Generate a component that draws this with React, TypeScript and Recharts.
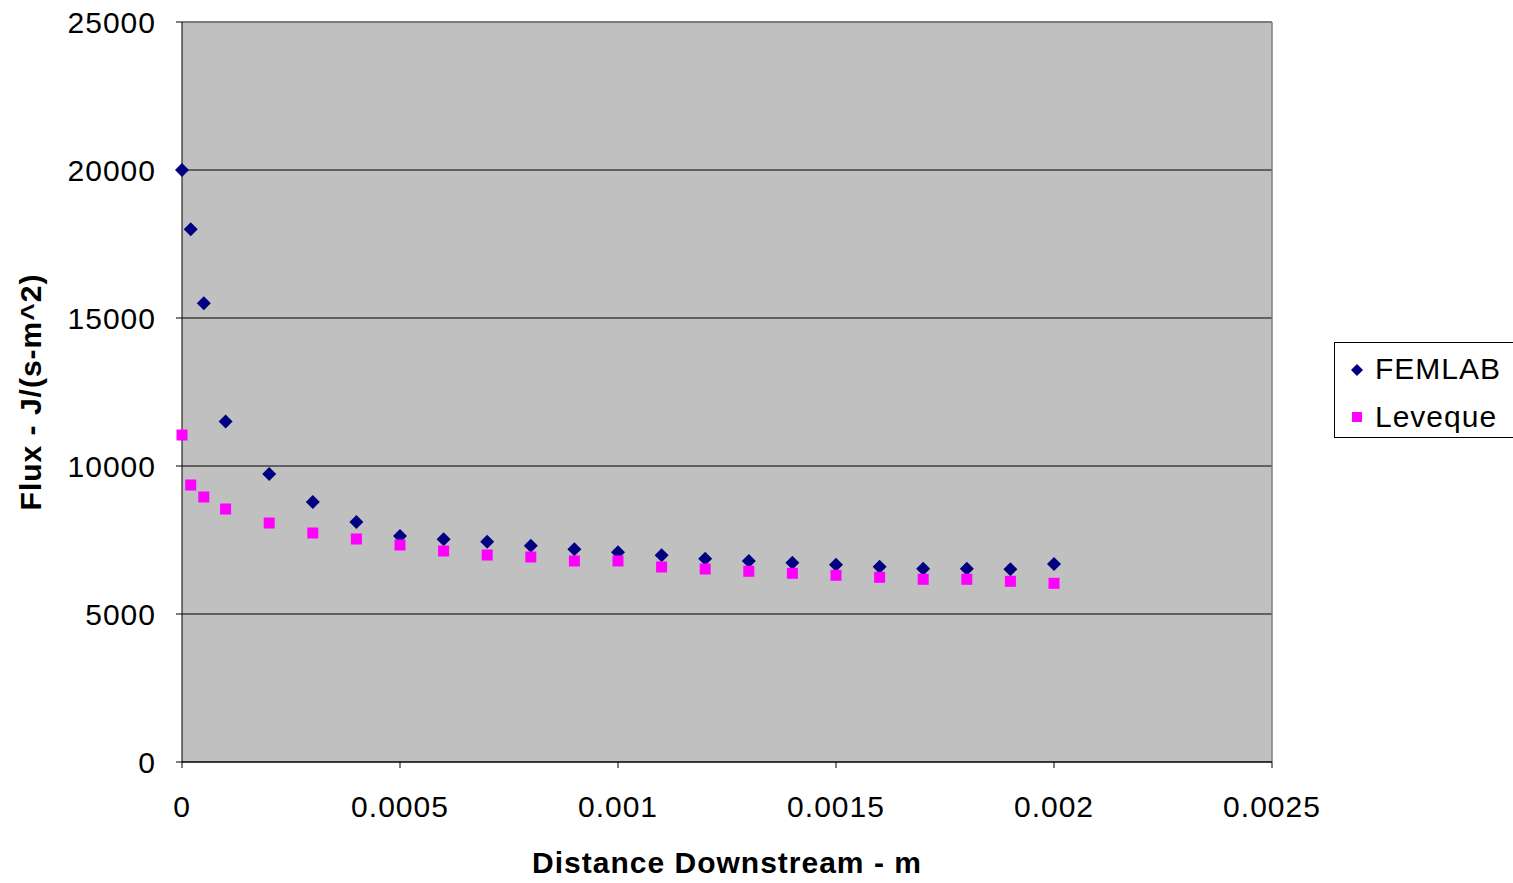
import { ScatterChart, Scatter, XAxis, YAxis, CartesianGrid, ReferenceLine } from "recharts";

// distance downstream (m)
const distance = [
  0, 0.00002, 0.00005, 0.0001, 0.0002, 0.0003, 0.0004, 0.0005, 0.0006, 0.0007, 0.0008,
  0.0009, 0.001, 0.0011, 0.0012, 0.0013, 0.0014, 0.0015, 0.0016, 0.0017, 0.0018, 0.0019, 0.002,
];
// flux J/(s-m^2)
const femlab = [
  20000, 18000, 15500, 11500, 9730, 8780, 8110, 7635, 7524, 7443, 7307,
  7186, 7084, 6983, 6869, 6791, 6733, 6666, 6598, 6530, 6530, 6510, 6689,
];
const leveque = [
  11047, 9358, 8953, 8547, 8074, 7736, 7534, 7331, 7128, 6993, 6926,
  6791, 6791, 6588, 6520, 6443, 6375, 6307, 6240, 6172, 6172, 6105, 6037,
];
const xTicks = [0, 0.0005, 0.001, 0.0015, 0.002, 0.0025];
const yTicks = [0, 5000, 10000, 15000, 20000, 25000];

const FONT = "'Liberation Sans', Arial, sans-serif";
const NAVY = "#000080";
const MAGENTA = "#FF00FF";

const femlabData = distance.map((x, i) => ({ x, y: femlab[i] }));
const levequeData = distance.map((x, i) => ({ x, y: leveque[i] }));

function Diamond(props: any) {
  const { cx, cy } = props;
  const r = 7;
  return <polygon points={`${cx},${cy - r} ${cx + r},${cy} ${cx},${cy + r} ${cx - r},${cy}`} fill={NAVY} />;
}

function Square(props: any) {
  const { cx, cy } = props;
  const s = 11;
  return <rect x={cx - s / 2} y={cy - s / 2} width={s} height={s} fill={MAGENTA} />;
}

function YTitle(props: any) {
  const vb = props.viewBox;
  const cx = 30;
  const cy = vb.y + vb.height / 2;
  return (
    <text x={cx} y={cy} transform={`rotate(-90 ${cx} ${cy})`} textAnchor="middle" dominantBaseline="central"
      fontFamily={FONT} fontSize={30} letterSpacing={1} fontWeight="bold" fill="#000">
      Flux - J/(s-m^2)
    </text>
  );
}

function XTitle(props: any) {
  const vb = props.viewBox;
  return (
    <text x={vb.x + vb.width / 2} y={873} textAnchor="middle" fontFamily={FONT} fontSize={30} letterSpacing={1}
      fontWeight="bold" fill="#000">
      Distance Downstream - m
    </text>
  );
}

export default function App() {
  const tickStyle = { fill: "#000", fontSize: 30, fontFamily: FONT, letterSpacing: 1 };
  return (
    <div style={{ position: "absolute", left: 0, top: 0, width: 1513, height: 883, overflow: "hidden", background: "#fff" }}>
      <ScatterChart width={1513} height={883} margin={{ top: 22, right: 241, bottom: 0, left: 0 }}>
        <CartesianGrid vertical={false} stroke="#000" fill="#C0C0C0" fillOpacity={1} />
        <XAxis
          type="number"
          dataKey="x"
          domain={[0, 0.0025]}
          ticks={xTicks}
          tickFormatter={(v) => String(v)}
          height={121}
          tickSize={6}
          tickMargin={28}
          stroke="#000"
          tick={tickStyle}
          label={<XTitle />}
        />
        <YAxis
          type="number"
          dataKey="y"
          domain={[0, 25000]}
          ticks={yTicks}
          width={182}
          tickSize={6}
          tickMargin={20}
          stroke="#000"
          tick={tickStyle}
          label={<YTitle />}
        />
        <ReferenceLine y={25000} stroke="#808080" strokeWidth={1.5} />
        <ReferenceLine x={0.0025} stroke="#808080" strokeWidth={1.5} />
        <Scatter name="FEMLAB" data={femlabData} shape={<Diamond />} isAnimationActive={false} />
        <Scatter name="Leveque" data={levequeData} shape={<Square />} isAnimationActive={false} />
      </ScatterChart>
      <div
        style={{
          position: "absolute",
          left: 1334,
          top: 342,
          width: 200,
          height: 94,
          border: "1px solid #000",
          background: "#fff",
          fontFamily: FONT,
          fontSize: 30,
          letterSpacing: 1,
          color: "#000",
        }}
      >
        <div style={{ position: "absolute", left: 40, top: 9, lineHeight: "34px" }}>FEMLAB</div>
        <div style={{ position: "absolute", left: 40, top: 57, lineHeight: "34px" }}>Leveque</div>
        <svg style={{ position: "absolute", left: 0, top: 0 }} width={40} height={94}>
          <polygon points="22,21 28,27 22,33 16,27" fill={NAVY} />
          <rect x={17} y={69} width={10} height={10} fill={MAGENTA} />
        </svg>
      </div>
    </div>
  );
}
